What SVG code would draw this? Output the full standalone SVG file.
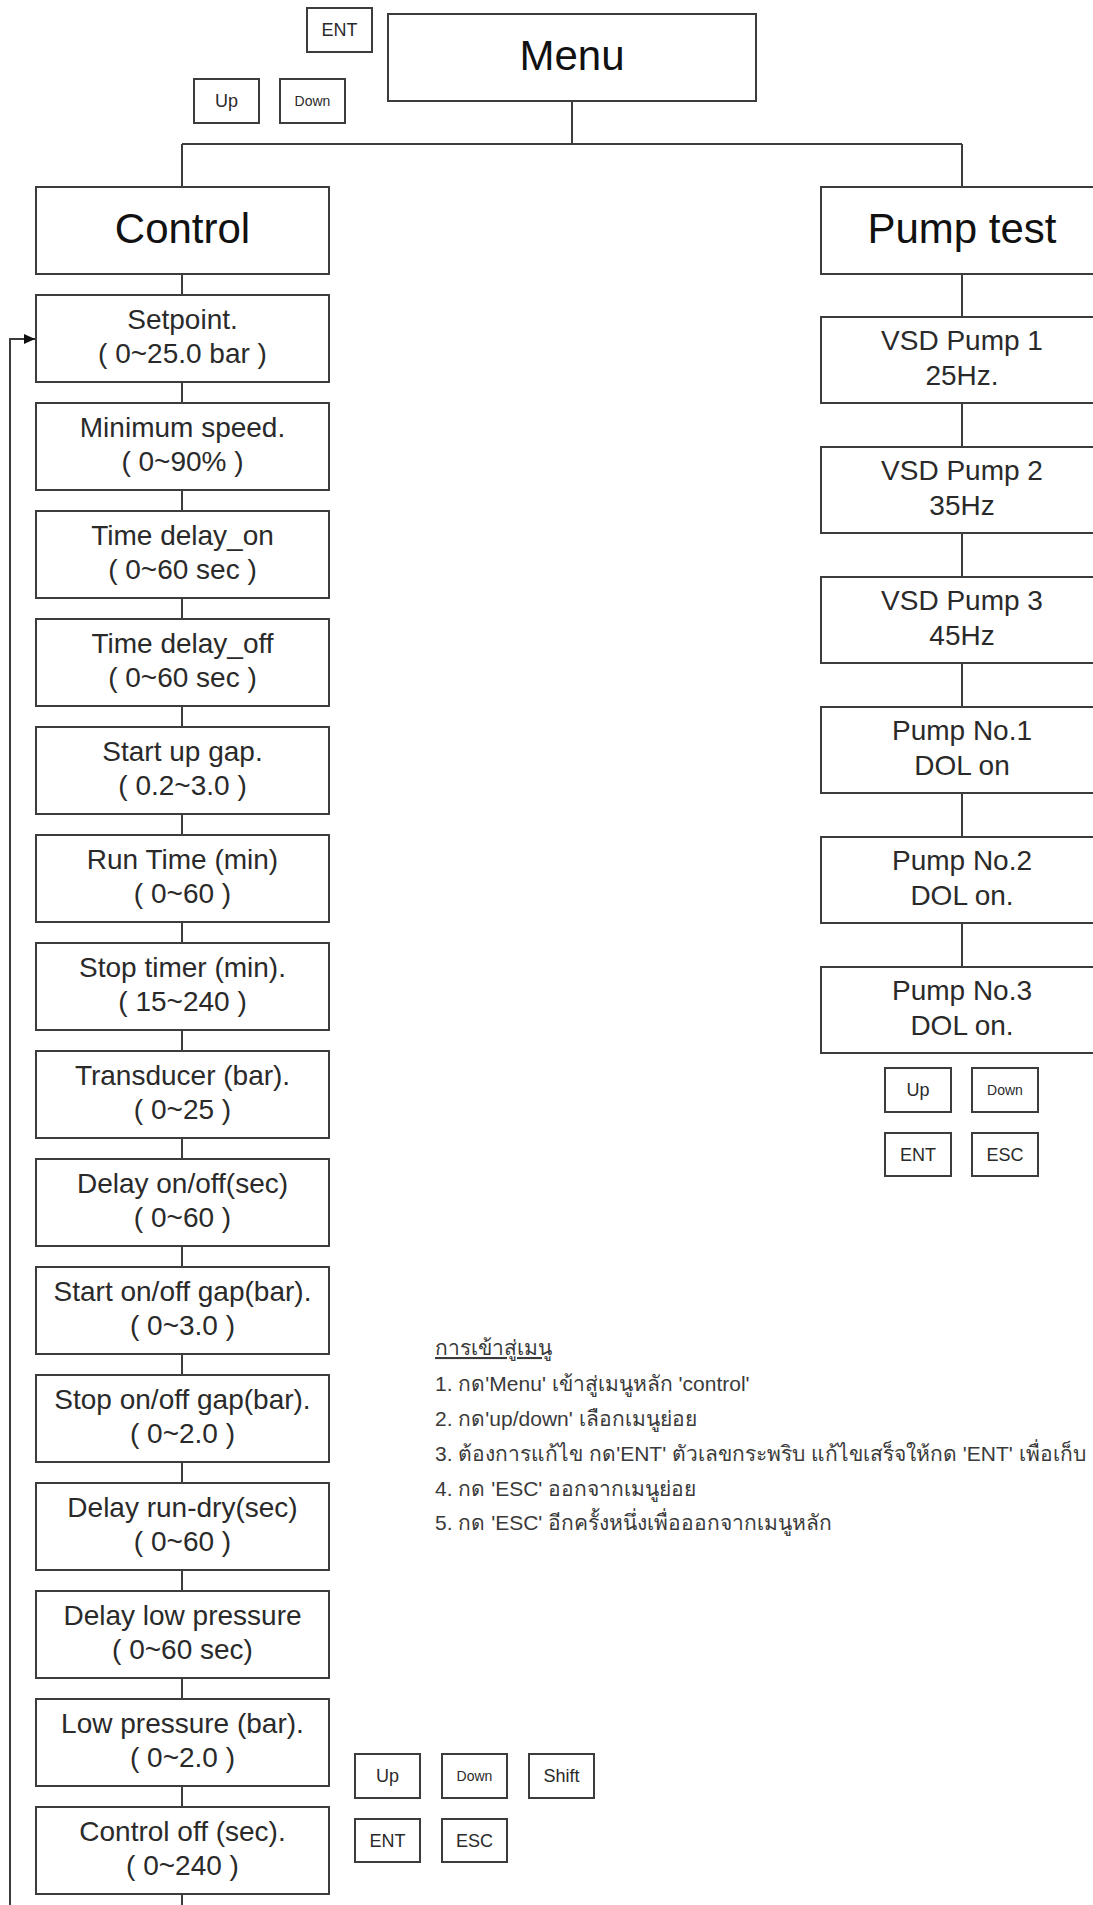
<svg xmlns="http://www.w3.org/2000/svg" width="1093" height="1905" viewBox="0 0 1093 1905">
<style>
.box{fill:#fff;stroke:#3c3c3c;stroke-width:2}
.btn{fill:#fff;stroke:#3c3c3c;stroke-width:2}
.ln{fill:none;stroke:#3c3c3c;stroke-width:2}
.big{font-family:"Liberation Sans",Arial,sans-serif;font-size:42px;fill:#111;text-anchor:middle}
.lbl{font-family:"Liberation Sans",Arial,sans-serif;font-size:28px;fill:#2a2a2a;text-anchor:middle}
.b{font-family:"Liberation Sans",Arial,sans-serif;font-size:18px;fill:#2a2a2a;text-anchor:middle}
.bs{font-family:"Liberation Sans",Arial,sans-serif;font-size:14px;fill:#2a2a2a;text-anchor:middle}
.th{font-family:"Liberation Sans","Noto Sans",sans-serif;font-size:21px;fill:#3a3a3a}
</style>
<defs>
<marker id="arr" markerWidth="12" markerHeight="10" refX="11" refY="5" orient="auto" markerUnits="userSpaceOnUse">
<path d="M0,0 L11,5 L0,10 Z" fill="#111"/>
</marker>
</defs>
<rect width="1093" height="1905" fill="#fff"/>

<g id="connectors">
<path class="ln" d="M572,101 V144 M182,144 H962 M182,144 V187 M962,144 V187"/>
<path class="ln" d="M182,274 V295 M182,382 V403 M182,490 V511 M182,598 V619 M182,706 V727 M182,814 V835 M182,922 V943 M182,1030 V1051 M182,1138 V1159 M182,1246 V1267 M182,1354 V1375 M182,1462 V1483 M182,1570 V1591 M182,1678 V1699 M182,1786 V1807 M182,1894 V1905"/>
<path class="ln" d="M962,274 V317 M962,403 V447 M962,533 V577 M962,663 V707 M962,793 V837 M962,923 V967"/>
<path class="ln" d="M10,1905 V339 H35" marker-end="url(#arr)"/>
</g>

<g id="menu"><rect class="box" x="388" y="14" width="368" height="87"/><text class="big" x="572" y="70">Menu</text></g>
<g id="btn-ent-top"><rect class="btn" x="307" y="8" width="65" height="44"/><text class="b" x="339.5" y="36">ENT</text></g>
<g id="btn-up-top"><rect class="btn" x="194" y="79" width="65" height="44"/><text class="b" x="226.5" y="107">Up</text></g>
<g id="btn-down-top"><rect class="btn" x="280" y="79" width="65" height="44"/><text class="bs" x="312.5" y="106">Down</text></g>

<g id="control"><rect class="box" x="36" y="187" width="293" height="87"/><text class="big" x="182.5" y="243">Control</text></g>
<g id="pumptest"><rect class="box" x="821" y="187" width="293" height="87"/><text class="big" x="962" y="243">Pump test</text></g>

<g id="setpoint"><rect class="box" x="36" y="295" width="293" height="87"/><text class="lbl" x="182.5" y="329">Setpoint.</text><text class="lbl" x="182.5" y="363">( 0~25.0 bar )</text></g>
<g id="minspeed"><rect class="box" x="36" y="403" width="293" height="87"/><text class="lbl" x="182.5" y="437">Minimum speed.</text><text class="lbl" x="182.5" y="471">( 0~90% )</text></g>
<g id="delayon"><rect class="box" x="36" y="511" width="293" height="87"/><text class="lbl" x="182.5" y="545">Time delay_on</text><text class="lbl" x="182.5" y="579">( 0~60 sec )</text></g>
<g id="delayoff"><rect class="box" x="36" y="619" width="293" height="87"/><text class="lbl" x="182.5" y="653">Time delay_off</text><text class="lbl" x="182.5" y="687">( 0~60 sec )</text></g>
<g id="startgap"><rect class="box" x="36" y="727" width="293" height="87"/><text class="lbl" x="182.5" y="761">Start up gap.</text><text class="lbl" x="182.5" y="795">( 0.2~3.0 )</text></g>
<g id="runtime"><rect class="box" x="36" y="835" width="293" height="87"/><text class="lbl" x="182.5" y="869">Run Time (min)</text><text class="lbl" x="182.5" y="903">( 0~60 )</text></g>
<g id="stoptimer"><rect class="box" x="36" y="943" width="293" height="87"/><text class="lbl" x="182.5" y="977">Stop timer (min).</text><text class="lbl" x="182.5" y="1011">( 15~240 )</text></g>
<g id="transducer"><rect class="box" x="36" y="1051" width="293" height="87"/><text class="lbl" x="182.5" y="1085">Transducer (bar).</text><text class="lbl" x="182.5" y="1119">( 0~25 )</text></g>
<g id="delayonoff"><rect class="box" x="36" y="1159" width="293" height="87"/><text class="lbl" x="182.5" y="1193">Delay on/off(sec)</text><text class="lbl" x="182.5" y="1227">( 0~60 )</text></g>
<g id="startonoff"><rect class="box" x="36" y="1267" width="293" height="87"/><text class="lbl" x="182.5" y="1301">Start on/off gap(bar).</text><text class="lbl" x="182.5" y="1335">( 0~3.0 )</text></g>
<g id="stoponoff"><rect class="box" x="36" y="1375" width="293" height="87"/><text class="lbl" x="182.5" y="1409">Stop on/off gap(bar).</text><text class="lbl" x="182.5" y="1443">( 0~2.0 )</text></g>
<g id="rundry"><rect class="box" x="36" y="1483" width="293" height="87"/><text class="lbl" x="182.5" y="1517">Delay run-dry(sec)</text><text class="lbl" x="182.5" y="1551">( 0~60 )</text></g>
<g id="delaylow"><rect class="box" x="36" y="1591" width="293" height="87"/><text class="lbl" x="182.5" y="1625">Delay low pressure</text><text class="lbl" x="182.5" y="1659">( 0~60 sec)</text></g>
<g id="lowpressure"><rect class="box" x="36" y="1699" width="293" height="87"/><text class="lbl" x="182.5" y="1733">Low pressure (bar).</text><text class="lbl" x="182.5" y="1767">( 0~2.0 )</text></g>
<g id="controloff"><rect class="box" x="36" y="1807" width="293" height="87"/><text class="lbl" x="182.5" y="1841">Control off (sec).</text><text class="lbl" x="182.5" y="1875">( 0~240 )</text></g>

<g id="vsd1"><rect class="box" x="821" y="317" width="293" height="86"/><text class="lbl" x="962" y="350">VSD Pump 1</text><text class="lbl" x="962" y="385">25Hz.</text></g>
<g id="vsd2"><rect class="box" x="821" y="447" width="293" height="86"/><text class="lbl" x="962" y="480">VSD Pump 2</text><text class="lbl" x="962" y="515">35Hz</text></g>
<g id="vsd3"><rect class="box" x="821" y="577" width="293" height="86"/><text class="lbl" x="962" y="610">VSD Pump 3</text><text class="lbl" x="962" y="645">45Hz</text></g>
<g id="dol1"><rect class="box" x="821" y="707" width="293" height="86"/><text class="lbl" x="962" y="740">Pump No.1</text><text class="lbl" x="962" y="775">DOL on</text></g>
<g id="dol2"><rect class="box" x="821" y="837" width="293" height="86"/><text class="lbl" x="962" y="870">Pump No.2</text><text class="lbl" x="962" y="905">DOL on.</text></g>
<g id="dol3"><rect class="box" x="821" y="967" width="293" height="86"/><text class="lbl" x="962" y="1000">Pump No.3</text><text class="lbl" x="962" y="1035">DOL on.</text></g>

<g id="btn-up-r"><rect class="btn" x="885" y="1068" width="66" height="44"/><text class="b" x="918" y="1096">Up</text></g>
<g id="btn-down-r"><rect class="btn" x="972" y="1068" width="66" height="44"/><text class="bs" x="1005" y="1095">Down</text></g>
<g id="btn-ent-r"><rect class="btn" x="885" y="1133" width="66" height="43"/><text class="b" x="918" y="1161">ENT</text></g>
<g id="btn-esc-r"><rect class="btn" x="972" y="1133" width="66" height="43"/><text class="b" x="1005" y="1161">ESC</text></g>

<g id="btn-up-l"><rect class="btn" x="355" y="1754" width="65" height="44"/><text class="b" x="387.5" y="1782">Up</text></g>
<g id="btn-down-l"><rect class="btn" x="442" y="1754" width="65" height="44"/><text class="bs" x="474.5" y="1781">Down</text></g>
<g id="btn-shift-l"><rect class="btn" x="529" y="1754" width="65" height="44"/><text class="b" x="561.5" y="1782">Shift</text></g>
<g id="btn-ent-l"><rect class="btn" x="355" y="1819" width="65" height="43"/><text class="b" x="387.5" y="1847">ENT</text></g>
<g id="btn-esc-l"><rect class="btn" x="442" y="1819" width="65" height="43"/><text class="b" x="474.5" y="1847">ESC</text></g>

<g id="notes">
<text class="th" x="435" y="1355" text-decoration="underline">การเข้าสู่เมนู</text>
<text class="th" x="435" y="1391">1. กด'Menu' เข้าสู่เมนูหลัก 'control'</text>
<text class="th" x="435" y="1426">2. กด'up/down' เลือกเมนูย่อย</text>
<text class="th" x="435" y="1461">3. ต้องการแก้ไข กด'ENT' ตัวเลขกระพริบ แก้ไขเสร็จให้กด 'ENT' เพื่อเก็บ</text>
<text class="th" x="435" y="1496">4. กด 'ESC' ออกจากเมนูย่อย</text>
<text class="th" x="435" y="1530">5. กด 'ESC' อีกครั้งหนึ่งเพื่อออกจากเมนูหลัก</text>
</g>
</svg>
